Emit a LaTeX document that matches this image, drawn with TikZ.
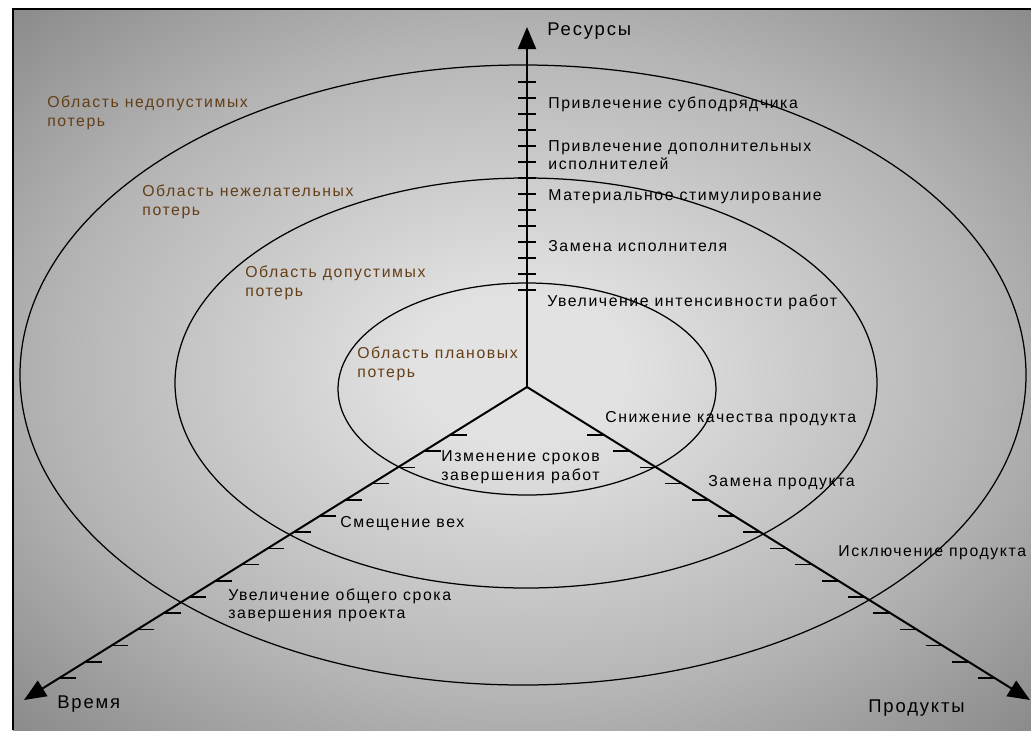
\documentclass[tikz,border=0pt]{standalone}
\usepackage{fontspec}
\setmainfont{Liberation Sans}
\newfontfamily\lblfont[LetterSpace=10]{Liberation Sans}
\usetikzlibrary{arrows.meta}

\definecolor{bglight}{RGB}{226,226,226}
\definecolor{bgmid}{RGB}{180,180,180}
\definecolor{bgdark}{RGB}{140,140,140}
\definecolor{areabrown}{RGB}{100,62,22}
\pgfdeclareradialshading{backshade}{\pgfpoint{0bp}{0bp}}{color(0bp)=(bglight); color(5bp)=(bglight); color(23bp)=(bgmid); color(35bp)=(bgdark); color(50bp)=(bgdark)}

\tikzset{
  axis/.style={line width=0.4mm, -{Triangle[length=4.4mm,width=3.6mm]}},
  hashline/.style={line width=0.25mm},
  zone/.style={line width=0.25mm},
  measure/.style={anchor=west, inner sep=0pt, align=left, font=\lblfont\fontsize{9}{10.5}\selectfont},
  area/.style={measure, text=areabrown},
  axislabel/.style={anchor=west, inner sep=0pt, font=\lblfont\fontsize{10.5}{12}\selectfont}
}

\begin{document}
\begin{tikzpicture}
	\useasboundingbox (-10.54,-6.86) rectangle (10.08,7.74);
	\fill[white] (-10.54,-6.86) rectangle (10.08,7.74);
	\shade[shading=backshade] (-10.28,-6.86) rectangle (10.08,7.56);
	\draw[line width=0.5mm] (-10.28,-6.86) -- (-10.28,7.56) -- (10.08,7.56);
	
	\coordinate (O) at (0,0);
	\coordinate (res) at (0,7.2);
	\coordinate (time) at (-10.06,-6.26);
	\coordinate (prod) at (10.06,-6.26);
	
	\draw[zone] (0,-0.04) ellipse [x radius=3.78, y radius=2.12];
	\draw[zone] (-0.02,0.08) ellipse [x radius=7.02, y radius=4.10];
	\draw[zone] (-0.08,0.24) ellipse [x radius=10.06, y radius=6.20];
	
	\draw[hashline] (-0.18,1.94) -- (0.18,1.94);
	\draw[hashline] (-0.18,2.26) -- (0.18,2.26);
	\draw[hashline] (-0.18,2.58) -- (0.18,2.58);
	\draw[hashline] (-0.18,2.90) -- (0.18,2.90);
	\draw[hashline] (-0.18,3.22) -- (0.18,3.22);
	\draw[hashline] (-0.18,3.54) -- (0.18,3.54);
	\draw[hashline] (-0.18,3.86) -- (0.18,3.86);
	\draw[hashline] (-0.18,4.18) -- (0.18,4.18);
	\draw[hashline] (-0.18,4.50) -- (0.18,4.50);
	\draw[hashline] (-0.18,4.82) -- (0.18,4.82);
	\draw[hashline] (-0.18,5.14) -- (0.18,5.14);
	\draw[hashline] (-0.18,5.46) -- (0.18,5.46);
	\draw[hashline] (-0.18,5.78) -- (0.18,5.78);
	\draw[hashline] (-0.18,6.10) -- (0.18,6.10);
	
	\draw[hashline] (-1.54,-0.96) -- (-1.20,-0.96);
	\draw[hashline] (-2.06,-1.28) -- (-1.72,-1.28);
	\draw[hashline] (-2.59,-1.61) -- (-2.25,-1.61);
	\draw[hashline] (-3.10,-1.93) -- (-2.76,-1.93);
	\draw[hashline] (-3.63,-2.26) -- (-3.29,-2.26);
	\draw[hashline] (-4.15,-2.58) -- (-3.81,-2.58);
	\draw[hashline] (-4.66,-2.90) -- (-4.32,-2.90);
	\draw[hashline] (-5.19,-3.23) -- (-4.85,-3.23);
	\draw[hashline] (-5.70,-3.55) -- (-5.36,-3.55);
	\draw[hashline] (-6.24,-3.88) -- (-5.90,-3.88);
	\draw[hashline] (-6.75,-4.20) -- (-6.41,-4.20);
	\draw[hashline] (-7.26,-4.52) -- (-6.92,-4.52);
	\draw[hashline] (-7.79,-4.85) -- (-7.45,-4.85);
	\draw[hashline] (-8.31,-5.17) -- (-7.97,-5.17);
	\draw[hashline] (-8.84,-5.50) -- (-8.50,-5.50);
	\draw[hashline] (-9.35,-5.82) -- (-9.01,-5.82);
	
	\draw[hashline] (1.54,-0.96) -- (1.20,-0.96);
	\draw[hashline] (2.06,-1.28) -- (1.72,-1.28);
	\draw[hashline] (2.59,-1.61) -- (2.25,-1.61);
	\draw[hashline] (3.10,-1.93) -- (2.76,-1.93);
	\draw[hashline] (3.63,-2.26) -- (3.29,-2.26);
	\draw[hashline] (4.15,-2.58) -- (3.81,-2.58);
	\draw[hashline] (4.66,-2.90) -- (4.32,-2.90);
	\draw[hashline] (5.19,-3.23) -- (4.85,-3.23);
	\draw[hashline] (5.70,-3.55) -- (5.36,-3.55);
	\draw[hashline] (6.24,-3.88) -- (5.90,-3.88);
	\draw[hashline] (6.75,-4.20) -- (6.41,-4.20);
	\draw[hashline] (7.26,-4.52) -- (6.92,-4.52);
	\draw[hashline] (7.79,-4.85) -- (7.45,-4.85);
	\draw[hashline] (8.31,-5.17) -- (7.97,-5.17);
	\draw[hashline] (8.84,-5.50) -- (8.50,-5.50);
	\draw[hashline] (9.35,-5.82) -- (9.01,-5.82);
	
	\draw[axis] (O) -- (res);
	\draw[axis] (O) -- (time);
	\draw[axis] (O) -- (prod);
	
	\node[axislabel] (resl) at (0.40,7.12) {Ресурсы};
	\node[axislabel] (timel) at (-9.40,-6.34) {Время};
	\node[axislabel] (prodl) at (6.82,-6.42) {Продукты};
	
	\node[measure] (subc) at (0.42,5.66) {Привлечение субподрядчика};
	\node[measure] (addst) at (0.42,4.64) {Привлечение дополнительных\\исполнителей};
	\node[measure] (bonus) at (0.42,3.80) {Материальное стимулирование};
	\node[measure] (swap) at (0.42,2.82) {Замена исполнителя};
	\node[measure] (inten) at (0.40,1.70) {Увеличение интенсивности работ};
	
	\node[measure] (qual) at (1.56,-0.64) {Снижение качества продукта};
	\node[measure] (prsw) at (3.62,-1.92) {Замена продукта};
	\node[measure] (prex) at (6.22,-3.32) {Исключение продукта};
	
	\node[measure] (dates) at (-1.72,-1.60) {Изменение сроков\\завершения работ};
	\node[measure] (miles) at (-3.74,-2.74) {Смещение вех};
	\node[measure] (total) at (-5.98,-4.37) {Увеличение общего срока\\завершения проекта};
	
	\node[area] (z4) at (-9.60,5.48) {Область недопустимых\\потерь};
	\node[area] (z3) at (-7.70,3.70) {Область нежелательных\\потерь};
	\node[area] (z2) at (-5.64,2.08) {Область допустимых\\потерь};
	\node[area] (z1) at (-3.40,0.46) {Область плановых\\потерь};
\end{tikzpicture}
\end{document}
